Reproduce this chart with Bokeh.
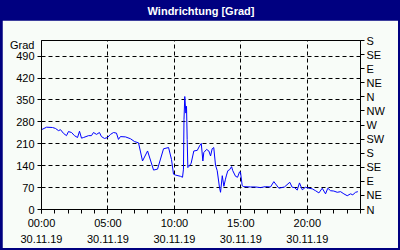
from bokeh.plotting import figure
from bokeh.layouts import column
from bokeh.models import LinearAxis, FixedTicker, Label
from bokeh.embed import file_html
from bokeh.resources import INLINE

hours = [0.00, 0.38, 0.83, 1.05, 1.28, 1.43, 1.66, 1.88, 2.03, 2.26,
         2.48, 2.71, 2.86, 3.01, 3.16, 3.54, 3.76, 3.91, 4.14, 4.36,
         4.51, 4.74, 4.97, 5.19, 5.42, 5.64, 5.79, 5.94, 6.32, 6.70,
         7.00, 7.30, 7.60, 7.98, 8.43, 8.73, 9.18, 9.56, 9.78, 9.93,
         10.08, 10.46, 10.61, 10.68, 10.72, 10.78, 10.86, 10.91, 10.96, 11.01,
         11.08, 11.26, 11.46, 11.72, 11.89, 12.02, 12.14, 12.21, 12.42, 12.59,
         12.72, 12.84, 12.96, 13.09, 13.22, 13.39, 13.47, 13.60, 13.72, 13.84,
         13.92, 14.02, 14.15, 14.30, 14.39, 14.60, 14.75, 14.90, 14.97, 15.10,
         15.22, 15.73, 16.10, 16.48, 16.85, 17.23, 17.48, 17.86, 18.28, 18.68,
         18.86, 19.04, 19.24, 19.41, 19.62, 19.86, 20.11, 20.37, 20.62, 20.87,
         21.12, 21.37, 21.54, 21.75, 21.99, 22.25, 22.50, 22.75, 23.00, 23.25,
         23.42, 23.63, 23.80]
direction = [255, 263, 262, 259, 252, 255, 243, 236, 249, 246,
             236, 230, 250, 228, 230, 236, 236, 246, 240, 246,
             233, 227, 230, 240, 246, 244, 224, 233, 232, 226,
             217, 213, 155, 187, 126, 129, 194, 198, 160, 113,
             110, 106, 103, 129, 287, 361, 308, 330, 224, 134,
             137, 148, 187, 189, 203, 211, 155, 182, 192, 187,
             171, 194, 198, 142, 124, 71, 55, 108, 74, 97,
             110, 124, 127, 137, 124, 106, 103, 120, 120, 76,
             73, 72, 72, 70, 73, 72, 89, 68, 72, 87,
             71, 70, 62, 85, 63, 71, 68, 66, 60, 53,
             68, 50, 68, 60, 59, 55, 57, 50, 44, 50,
             47, 55, 57]

left_ticks = [0, 70, 140, 210, 280, 350, 420, 490]
unit_pos = 525
compass_ticks = [0, 45, 90, 135, 180, 225, 270, 315, 360, 405, 450, 495, 540]
compass_labels = ["N", "NE", "E", "SE", "S", "SW", "W", "NW", "N", "NE", "E", "SE", "S"]
time_ticks = [0, 5, 10, 15, 20]
time_labels = ["00:00", "05:00", "10:00", "15:00", "20:00"]
date_label = "30.11.19"
title_text = "Windrichtung [Grad]"
unit_text = "Grad"

NAVY = "#000080"
BG = "#F8FCF8"
FONT = "Liberation Sans"

# title bar
t = figure(width=400, height=20, output_backend="svg", toolbar_location=None,
           x_range=(0, 1), y_range=(0, 1), x_axis_type=None, y_axis_type=None,
           min_border=0)
t.grid.visible = False
t.background_fill_color = NAVY
t.border_fill_color = NAVY
t.outline_line_color = None
t.add_layout(Label(x=0.5, y=0.5, text=title_text, text_align="center",
                   text_baseline="middle", text_color="white",
                   text_font=FONT, text_font_size="11px", text_font_style="bold"))

# main chart
p = figure(width=396, height=228, output_backend="svg", toolbar_location=None,
           x_range=(0, 24), y_range=(0, 540),
           min_border_left=39, min_border_right=38, min_border_top=20, min_border_bottom=37,
           margin=(0, 2, 2, 2))
p.border_fill_color = BG
p.background_fill_color = BG
p.outline_line_color = "black"
p.outline_line_width = 1

# left axis: tick marks only (next to the frame)
ya = p.yaxis[0]
ya.ticker = FixedTicker(ticks=left_ticks)
ya.minor_tick_line_color = None
ya.major_tick_in = 0
ya.major_tick_out = 4
ya.major_label_standoff = 0
ya.major_label_overrides = {tk: "" for tk in left_ticks}
ya.major_label_text_font_size = "1px"

# left axis: labels including the unit
la = LinearAxis(ticker=FixedTicker(ticks=left_ticks + [unit_pos]),
                major_label_overrides={unit_pos: unit_text})
la.axis_line_color = None
la.major_tick_line_color = None
la.minor_tick_line_color = None
la.major_tick_in = 0
la.major_tick_out = 0
la.minor_tick_in = 0
la.minor_tick_out = 0
la.major_label_standoff = 3
la.major_label_text_font = FONT
la.major_label_text_font_size = "11px"
la.major_label_text_color = "black"
p.add_layout(la, "left")

# right axis (compass)
ra = LinearAxis(ticker=FixedTicker(ticks=compass_ticks),
                major_label_overrides={tk: lb for tk, lb in zip(compass_ticks, compass_labels)})
ra.minor_tick_line_color = None
ra.major_tick_in = 0
ra.major_tick_out = 4
ra.major_label_standoff = 2
ra.major_label_text_font = FONT
ra.major_label_text_font_size = "11px"
ra.major_label_text_color = "black"
p.add_layout(ra, "right")

# bottom axis
xa = p.xaxis[0]
xa.ticker = FixedTicker(ticks=time_ticks, minor_ticks=list(range(0, 25)))
xa.major_label_overrides = {tk: lb + "\n" + date_label for tk, lb in zip(time_ticks, time_labels)}
xa.major_tick_in = 0
xa.major_tick_out = 4
xa.minor_tick_in = 0
xa.minor_tick_out = 4
xa.minor_tick_line_color = "black"
xa.major_label_standoff = 3
xa.major_label_text_font = FONT
xa.major_label_text_font_size = "11px"
xa.major_label_text_color = "black"
xa.major_label_text_line_height = 1.4

# grids
p.xgrid.ticker = FixedTicker(ticks=[5, 10, 15, 20])
p.ygrid.ticker = FixedTicker(ticks=left_ticks[1:])
for g in (p.xgrid, p.ygrid):
    g.grid_line_color = "black"
    g.grid_line_dash = "4 3"
    g.grid_line_width = 1

p.line(hours, direction, line_color="#0000FF", line_width=1)

layout = column(t, p, spacing=0, styles={"background-color": NAVY})
open("out.html", "w").write(file_html(layout, INLINE))
